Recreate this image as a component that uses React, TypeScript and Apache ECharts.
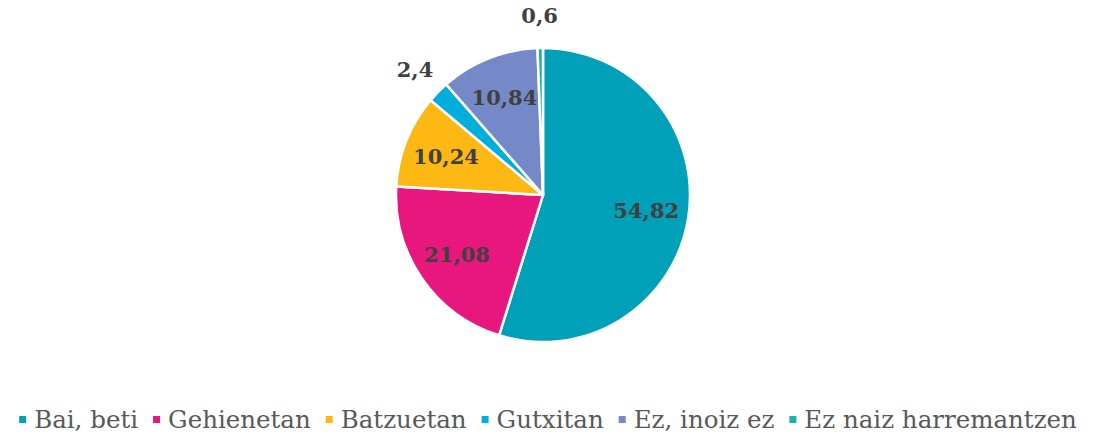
import React, { useEffect, useRef } from "react";
import * as echarts from "echarts";

const categories = ["Bai, beti", "Gehienetan", "Batzuetan", "Gutxitan", "Ez, inoiz ez", "Ez naiz harremantzen"];
const values = [54.82, 21.08, 10.24, 2.4, 10.84, 0.6];
const colors = ["#00A0B8", "#E8177D", "#FDB813", "#00AEDB", "#7589C8", "#1BB39E"];
const outsideLabel = [false, false, false, true, false, true];

const fmt = (v: number) => String(v).replace(".", ",");

export default function App() {
  const ref = useRef<HTMLDivElement>(null);
  useEffect(() => {
    document.body.style.margin = "0";
    const chart = echarts.init(ref.current!, null, { renderer: "svg" });
    const R = 147;
    const labelFont = {
      fontFamily: "DejaVu Serif",
      fontWeight: "bold" as const,
      fontSize: 21,
      color: "#404040",
    };
    chart.setOption({
      animation: false,
      legend: {
        bottom: 0,
        left: "center",
        itemWidth: 9,
        itemHeight: 9,
        itemGap: 13,
        icon: "rect",
        textStyle: { fontFamily: "DejaVu Serif", fontSize: 24.5, color: "#595959", padding: [0, 0, 0, 2] },
        data: categories,
      },
      series: [
        {
          type: "pie",
          center: [543, 195],
          radius: [0, R],
          startAngle: 90,
          clockwise: true,
          label: { show: false },
          labelLine: { show: false },
          itemStyle: { borderColor: "#ffffff", borderWidth: 2.5 },
          data: categories.map((c, i) => ({ name: c, value: values[i], itemStyle: { color: colors[i] } })),
        },
        {
          type: "pie",
          center: [543, 195],
          radius: [0, R * 1.38],
          startAngle: 90,
          clockwise: true,
          silent: true,
          legendHoverLink: false,
          labelLine: { show: false },
          itemStyle: { color: "transparent" },
          label: { show: true, position: "inside", formatter: (p: any) => fmt(p.value), ...labelFont },
          data: categories.map((c, i) => ({
            name: c + " ",
            value: values[i],
            label: { show: !outsideLabel[i] },
          })),
        },
        {
          type: "pie",
          center: [543, 195],
          radius: [0, R * 2.4],
          startAngle: 90,
          clockwise: true,
          silent: true,
          legendHoverLink: false,
          labelLine: { show: false },
          itemStyle: { color: "transparent" },
          label: { show: true, position: "inside", formatter: (p: any) => fmt(p.value), ...labelFont },
          data: categories.map((c, i) => ({
            name: c + "  ",
            value: values[i],
            label: { show: outsideLabel[i] },
          })),
        },
      ],
    });
    return () => chart.dispose();
  }, []);
  return <div ref={ref} style={{ width: 1094, height: 437 }} />;
}
